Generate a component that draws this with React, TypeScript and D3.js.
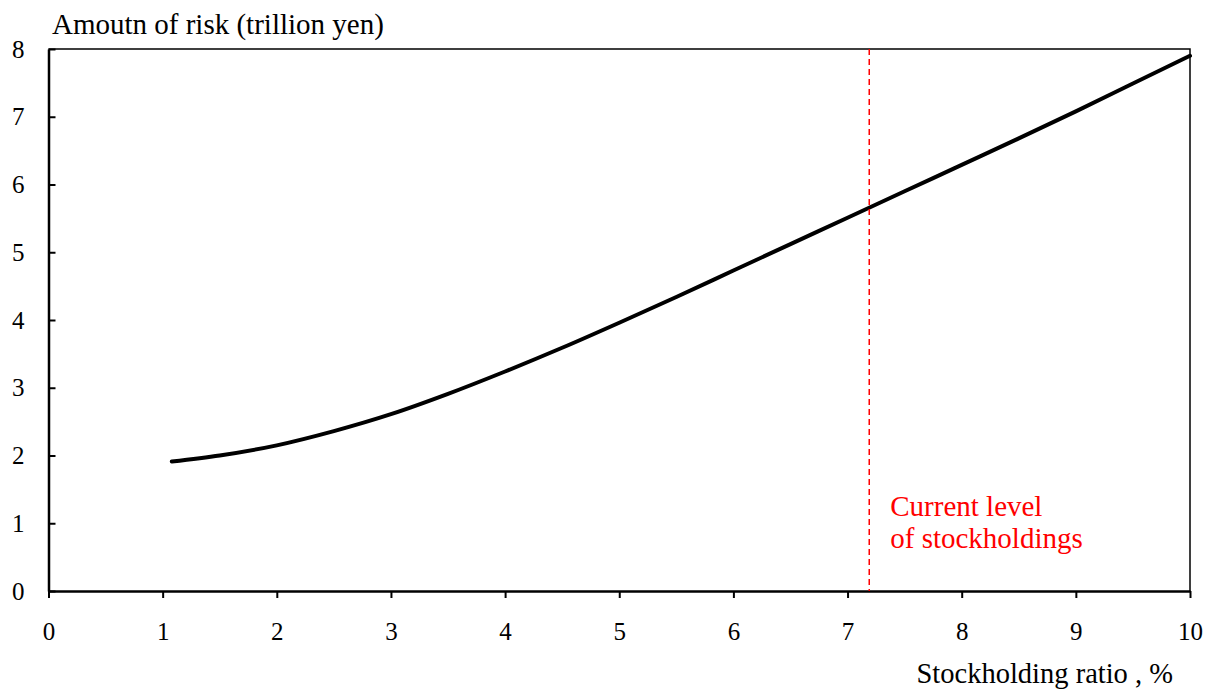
import { useEffect, useRef } from "react";
import * as d3 from "d3";

const RATIO = [1.08, 1.5, 2, 2.5, 3, 3.5, 4, 4.5, 5, 5.5, 6, 6.5, 7, 7.5, 8, 8.5, 9, 9.5, 10];
const RISK = [1.91, 2.0, 2.15, 2.36, 2.61, 2.91, 3.24, 3.59, 3.96, 4.34, 4.73, 5.12, 5.51, 5.9, 6.29, 6.68, 7.08, 7.49, 7.9];
const X_TICKS = [0, 1, 2, 3, 4, 5, 6, 7, 8, 9, 10];
const Y_TICKS = [0, 1, 2, 3, 4, 5, 6, 7, 8];
const CURRENT_LEVEL = 7.19;

export default function App() {
  const svgRef = useRef<SVGSVGElement | null>(null);

  useEffect(() => {
    if (!svgRef.current) return;
    const W = 1206, H = 697;
    const margin = { top: 49, right: 16, bottom: 106, left: 48.5 };
    const innerW = W - margin.left - margin.right;
    const innerH = H - margin.top - margin.bottom;
    const font = "'Liberation Serif', 'Times New Roman', serif";

    const svg = d3.select(svgRef.current);
    svg.selectAll("*").remove();
    svg.attr("width", W).attr("height", H);

    const g = svg.append("g").attr("transform", `translate(${margin.left},${margin.top})`);
    const x = d3.scaleLinear().domain([0, 10]).range([0, innerW]);
    const y = d3.scaleLinear().domain([0, 8]).range([innerH, 0]);

    // top and right frame
    g.append("path")
      .attr("d", `M0,0H${innerW}V${innerH}`)
      .attr("fill", "none").attr("stroke", "#000").attr("stroke-width", 1.5);

    const xAxis = g.append("g").attr("transform", `translate(0,${innerH})`)
      .call(d3.axisBottom(x).tickValues(X_TICKS).tickSize(7).tickSizeOuter(0).tickPadding(24).tickFormat((d) => String(d)));
    xAxis.select(".domain").attr("stroke-width", 2.5);
    xAxis.selectAll(".tick line").attr("stroke-width", 2);
    xAxis.selectAll("text").attr("font-family", font).attr("font-size", 25).attr("fill", "#000");

    const yAxis = g.append("g")
      .call(d3.axisLeft(y).tickValues(Y_TICKS).tickSize(-7).tickSizeOuter(0).tickPadding(24).tickFormat((d) => String(d)));
    yAxis.select(".domain").attr("stroke-width", 2.5);
    yAxis.selectAll(".tick line").attr("stroke-width", 2);
    yAxis.selectAll("text").attr("font-family", font).attr("font-size", 25).attr("fill", "#000");

    const pts = RATIO.map((r, i) => [r, RISK[i]] as [number, number]);
    const line = d3.line<[number, number]>()
      .x((d) => x(d[0])).y((d) => y(d[1]))
      .curve(d3.curveMonotoneX);
    g.append("path").datum(pts).attr("d", line as any)
      .attr("fill", "none").attr("stroke", "#000").attr("stroke-width", 4).attr("stroke-linecap", "round");

    g.append("line")
      .attr("x1", x(CURRENT_LEVEL)).attr("x2", x(CURRENT_LEVEL))
      .attr("y1", 0).attr("y2", innerH)
      .attr("stroke", "#ff0000").attr("stroke-width", 1.5).attr("stroke-dasharray", "6,4");

    const note = g.append("text")
      .attr("font-family", font).attr("font-size", 29).attr("fill", "#ff0000");
    note.append("tspan").attr("x", x(CURRENT_LEVEL) + 21).attr("y", 467).text("Current level");
    note.append("tspan").attr("x", x(CURRENT_LEVEL) + 21).attr("y", 499).text("of stockholdings");

    svg.append("text")
      .attr("x", 52).attr("y", 34)
      .attr("font-family", font).attr("font-size", 29).attr("fill", "#000")
      .text("Amoutn of risk (trillion yen)");

    svg.append("text")
      .attr("x", 1173).attr("y", 683).attr("text-anchor", "end")
      .attr("font-family", font).attr("font-size", 28.5).attr("fill", "#000")
      .text("Stockholding ratio , %");
  }, []);

  return (
    <svg ref={svgRef} style={{ position: "fixed", left: 0, top: 0, display: "block", background: "#fff" }} />
  );
}
